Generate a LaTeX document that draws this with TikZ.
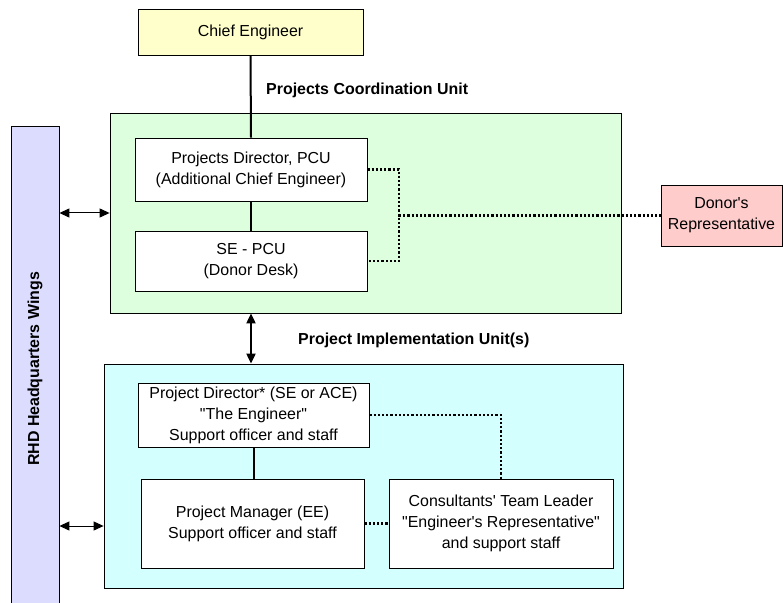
\documentclass[tikz,border=0pt]{standalone}
\usepackage{fontspec}
\setmainfont{Liberation Sans}
\usetikzlibrary{arrows.meta,shadows}
\definecolor{ceyellow}{HTML}{FFFFCC}
\definecolor{pcugreen}{HTML}{DDFFDD}
\definecolor{piucyan}{HTML}{D4FFFF}
\definecolor{rhdlav}{HTML}{DCDCFF}
\definecolor{donorpink}{HTML}{FFCCCC}
\begin{document}
\begin{tikzpicture}[x=1bp,y=-1bp,
  every node/.style={font=\fontsize{16}{21}\selectfont},
  box/.style={draw=black,line width=0.8bp,fill=white,align=center,inner sep=0pt,
    drop shadow={shadow xshift=1.2bp,shadow yshift=-1.2bp,fill=black!45}},
  unit/.style={font=\fontsize{16}{21}\selectfont\bfseries,anchor=west,inner sep=0pt},
  link/.style={line width=2bp},
  dots/.style={line width=2.2bp,dash pattern=on 2.2bp off 2bp},
  both/.style={arrows={Triangle[length=10bp,width=9bp]-Triangle[length=10bp,width=9bp]}}]
\clip (0,0) rectangle (783,603);
\fill [white] (0,0) rectangle (783,603);
\node [box,fill=rhdlav,minimum width=48bp,minimum height=486bp] (rhd) at (35,369)
  {\rotatebox{90}{\bfseries RHD Headquarters Wings}};
\node [box,fill=pcugreen,minimum width=511bp,minimum height=200bp] (pcu) at (365.5,213) {};
\node [box,fill=piucyan,minimum width=519bp,minimum height=224bp] (piu) at (363.5,476) {};
\node [box,fill=ceyellow,minimum width=225bp,minimum height=46bp] (chief) at (250.5,32) {Chief Engineer};
\node [box,minimum width=232bp,minimum height=63bp] (pd) at (251,169.5)
  {Projects Director, PCU\\(Additional Chief Engineer)};
\node [box,minimum width=232bp,minimum height=60bp] (se) at (251,261) {SE - PCU\\(Donor Desk)};
\node [box,fill=donorpink,minimum width=121bp,minimum height=61bp] (donor) at (721.5,215.5)
  {Donor\textquotesingle s\\Representative};
\node [box,minimum width=231bp,minimum height=64bp] (pdir) at (253.5,415)
  {Project Director* (SE or ACE)\\\textquotedbl The Engineer\textquotedbl\\Support officer and staff};
\node [box,minimum width=223bp,minimum height=89bp] (pm) at (252.5,523.5)
  {Project Manager (EE)\\Support officer and staff};
\node [box,minimum width=224bp,minimum height=89bp] (cons) at (501,523.5)
  {Consultants\textquotesingle\ Team Leader\\\textquotedbl Engineer\textquotesingle s Representative\textquotedbl\\and support staff};
\node [unit] (pculabel) at (266,90) {Projects Coordination Unit};
\node [unit] (piulabel) at (298,340) {Project Implementation Unit(s)};
\coordinate (dj) at (399,215.5);
\draw [link] (chief.south) -- (pd.north);
\draw [link] (pd.south) -- (se.north);
\draw [link] (pdir.south) -- (pdir.south |- pm.north);
\draw [link,both] (pcu.south -| se.south) -- (piu.north -| se.south);
\draw [line width=1bp,both] (rhd.east |- pcu.west) -- (pcu.west);
\draw [line width=1bp,both] (rhd.east |- 0,526) -- (piu.west |- 0,526);
\draw [dots] (pd.east) -| (dj) |- (se.east);
\draw [dots] (dj) -- (donor.west);
\draw [dots] (pdir.east) -| (cons.north);
\draw [dots] (pm.east) -- (cons.west);
\end{tikzpicture}
\end{document}
